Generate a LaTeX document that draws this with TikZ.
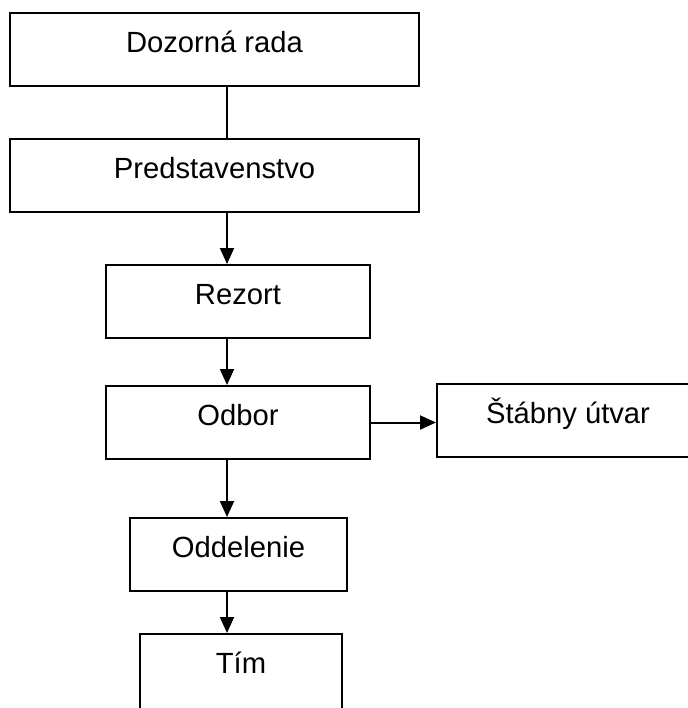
\documentclass[tikz,border=0pt]{standalone}
\usepackage{fontspec}
\setmainfont{Liberation Sans}
\usetikzlibrary{arrows.meta}

\begin{document}
\begin{tikzpicture}[x=0.5pt,y=-0.5pt,line width=1pt,>={Triangle[length=8pt,width=7pt]},
  box/.style={draw, rectangle, inner sep=0pt, anchor=north,
    text height=19.5pt, text depth=17pt, font=\fontsize{14.6}{17}\selectfont}]

% rozmer obrazka
\useasboundingbox (0,0) rectangle (688,708);
\clip (0,0) rectangle (688,708);

% bloky
\node[box, minimum width=204.5pt] (dozor)  at (214.5,12) {Dozorná rada};
\node[box, minimum width=204.5pt] (pred)   at (214.5,138) {Predstavenstvo};
\node[box, minimum width=132pt]   (rezort) at (238,264) {Rezort};
\node[box, minimum width=132pt]   (odbor)  at (238,385) {Odbor};
\node[box, minimum width=131pt]   (stab)   at (568,383) {Štábny útvar};
\node[box, minimum width=108.5pt] (odd)    at (238.5,517) {Oddelenie};
\node[box, minimum width=101pt, text depth=25pt] (tim) at (241,633) {Tím};

% zvisla os spojnic
\coordinate (spine) at (227,0);

% spojnice
\draw (dozor.south -| spine) -- (pred.north -| spine);
\draw[->] (pred.south -| spine) -- (rezort.north -| spine);
\draw[->] (rezort.south -| spine) -- (odbor.north -| spine);
\draw[->] (odbor.east) -- (odbor.east -| stab.west);
\draw[->] (odbor.south -| spine) -- (odd.north -| spine);
\draw[->] (odd.south -| spine) -- (tim.north -| spine);

\end{tikzpicture}
\end{document}
